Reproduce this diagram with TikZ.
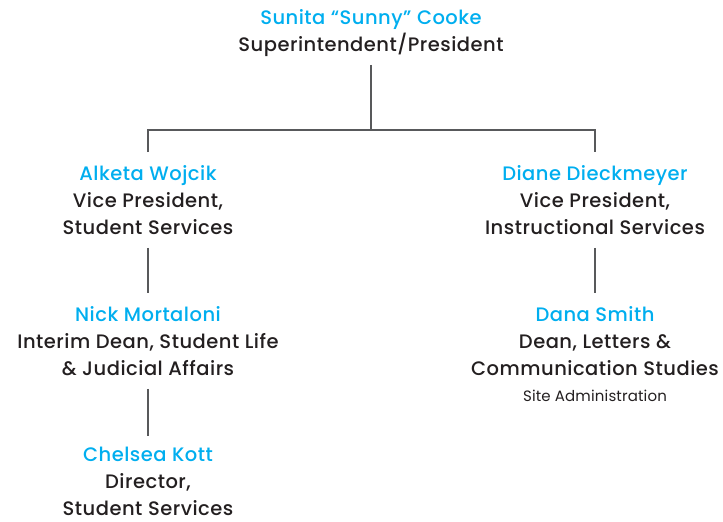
\documentclass[tikz,border=0pt]{standalone}
\usepackage{fontspec}
\setmainfont{Poppins Medium}[LetterSpace=2.5]
\newfontfamily\notefont{Poppins}[LetterSpace=1]
\definecolor{nameblue}{HTML}{00AEEF}
\definecolor{txt}{HTML}{231F20}
\definecolor{ln}{HTML}{58595B}
\begin{document}
\begin{tikzpicture}[x=1pt,y=-1pt,
  person/.style={align=center, font=\fontsize{19.5}{27}\selectfont, text=txt, inner sep=0pt},
  note/.style={font=\notefont\fontsize{15}{16}\selectfont, text=txt, inner sep=0pt},
  conn/.style={draw=ln, line width=1.5pt}]
\useasboundingbox (0,0) rectangle (723,522);
\node[person] (top) at (371,33) {\textcolor{nameblue}{Sunita “Sunny” Cooke}\\Superintendent/President};
\node[person] (alk) at (148,200) {\textcolor{nameblue}{Alketa Wojcik}\\Vice President,\\Student Services};
\node[person] (dia) at (595,200) {\textcolor{nameblue}{Diane Dieckmeyer}\\Vice President,\\Instructional Services};
\node[person] (nick) at (148,341) {\textcolor{nameblue}{Nick Mortaloni}\\Interim Dean, Student Life\\\& Judicial Affairs};
\node[person] (dana) at (595,341) {\textcolor{nameblue}{Dana Smith}\\Dean, Letters \&\\Communication Studies};
\node[note] (site) at (595,396) {Site Administration};
\node[person] (chel) at (148,481) {\textcolor{nameblue}{Chelsea Kott}\\Director,\\Student Services};
\coordinate (bar) at (371,130);
\draw[conn, shorten <=8pt] (top.south) -- (bar);
\draw[conn, shorten <=13pt, shorten >=13pt] (alk.north) |- (bar) -| (dia.north);
\draw[conn, shorten <=13pt, shorten >=13pt] (alk.south) -- (nick.north);
\draw[conn, shorten <=13pt, shorten >=13pt] (dia.south) -- (dana.north);
\draw[conn, shorten <=13pt, shorten >=11pt] (nick.south) -- (chel.north);
\end{tikzpicture}
\end{document}
